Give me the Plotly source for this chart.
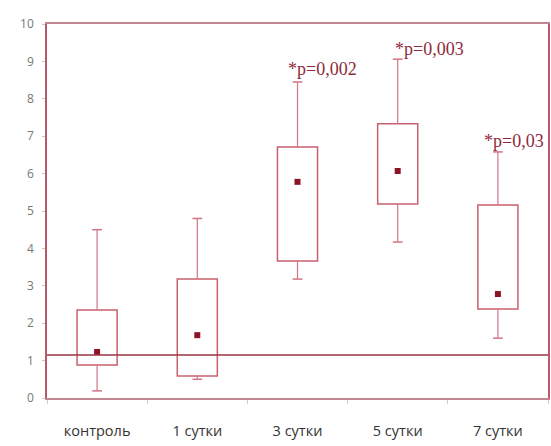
import plotly.graph_objects as go

# Groups and box-plot statistics
categories = ["контроль", "1 сутки", "3 сутки", "5 сутки", "7 сутки"]
whisker_low = [0.19, 0.50, 3.18, 4.17, 1.60]
box_low = [0.88, 0.59, 3.66, 5.19, 2.38]
centre = [1.23, 1.68, 5.78, 6.07, 2.78]
box_high = [2.35, 3.18, 6.71, 7.33, 5.16]
whisker_high = [4.50, 4.80, 8.45, 9.06, 6.58]

# Reference level drawn across the plot
reference_level = 1.15

# Significance labels: group, y position, horizontal offset in px
sig_groups = ["3 сутки", "5 сутки", "7 сутки"]
sig_texts = ["*p=0,002", "*p=0,003", "*p=0,03"]
sig_y = [8.80, 9.32, 6.88]
sig_shift = [-12, -5, -16]

y_ticks = list(range(0, 11))

box_col = "#c9606f"
whisk_col = "#d27585"
dot_col = "#8c1424"
text_red = "#8e2a3a"

fig = go.Figure()

# Boxes (interquartile range) as hollow bars
fig.add_trace(go.Bar(
    x=categories,
    y=[h - l for h, l in zip(box_high, box_low)],
    base=box_low,
    width=0.4,
    marker=dict(color="rgba(255,255,255,0)", line=dict(color=box_col, width=1.5)),
    hoverinfo="skip",
    showlegend=False,
))

# Whiskers
wx, wy = [], []
for c, lo, bl, bh, hi in zip(categories, whisker_low, box_low, box_high, whisker_high):
    wx += [c, c, None, c, c, None]
    wy += [bh, hi, None, lo, bl, None]
fig.add_trace(go.Scatter(
    x=wx, y=wy, mode="lines",
    line=dict(color=whisk_col, width=1.2),
    hoverinfo="skip", showlegend=False,
))

# Whisker caps
fig.add_trace(go.Scatter(
    x=categories + categories,
    y=whisker_high + whisker_low,
    mode="markers",
    marker=dict(symbol="line-ew", size=7, line=dict(color=whisk_col, width=1.5)),
    hoverinfo="skip", showlegend=False,
))

# Reference level line
fig.add_hline(y=reference_level, line=dict(color="#9a3444", width=1.6), layer="above")

# Central values
fig.add_trace(go.Scatter(
    x=categories, y=centre, mode="markers",
    marker=dict(symbol="square", size=6, color=dot_col),
    showlegend=False,
))

for g, t, y, s in zip(sig_groups, sig_texts, sig_y, sig_shift):
    fig.add_annotation(
        x=g, y=y, text=t, showarrow=False,
        xanchor="left", yanchor="middle", xshift=s,
        font=dict(family="Liberation Serif, Times New Roman, serif", size=18, color=text_red),
    )

fig.update_layout(
    width=551, height=446,
    margin=dict(l=47, r=1, t=24, b=48),
    paper_bgcolor="white", plot_bgcolor="white",
    font=dict(family="Open Sans, Liberation Sans, sans-serif"),
    bargap=0.6,
)

fig.update_xaxes(
    type="category", categoryorder="array", categoryarray=categories,
    showgrid=False, zeroline=False,
    showline=True, linecolor="#c48592", linewidth=1.5, mirror=True,
    ticks="outside", tickson="boundaries", ticklen=4, tickcolor="#cfcfcf",
    tickfont=dict(size=14.5, color="#333333"),
    ticklabelstandoff=19,
)

fig.update_yaxes(
    range=[0, 10], tickvals=y_ticks,
    showgrid=False, zeroline=False,
    showline=True, linecolor="#b55a6a", linewidth=1.5, mirror=True,
    ticks="outside", ticklen=3, tickcolor="#c8c8c8",
    tickfont=dict(size=12, color="#777777"),
    ticklabelstandoff=6,
)

fig.write_html("out.html")
